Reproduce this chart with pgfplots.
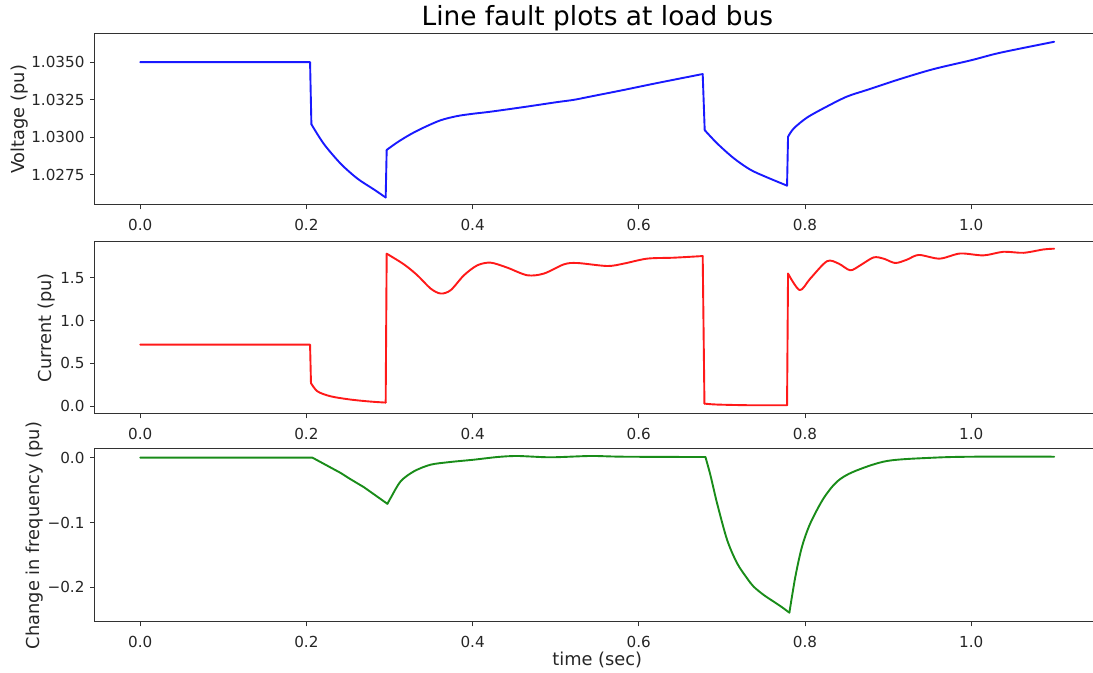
\documentclass[border=0pt]{standalone}
\usepackage{fontspec}
\setmainfont{DejaVu Sans}
\usepackage{pgfplots}
\pgfplotsset{compat=1.18}
\definecolor{vb}{RGB}{25,25,255}
\definecolor{vr}{RGB}{255,25,25}
\definecolor{vg}{RGB}{25,140,25}
\definecolor{ax}{RGB}{50,50,50}
\definecolor{tx}{RGB}{38,38,38}
\pgfplotsset{
  panel/.style={
    scale only axis, width=502.75pt,
    xmin=-0.055, xmax=1.155,
    xtick={0,0.2,0.4,0.6,0.8,1.0},
    xticklabels={0.0,0.2,0.4,0.6,0.8,1.0},
    xtick pos=bottom, ytick pos=left,
    tick align=outside, major tick length=2.2pt,
    tick style={ax, line width=0.5pt},
    axis line style={ax, line width=0.5pt},
    ticklabel style={font=\fontsize{7.6}{9}\selectfont, text=tx, inner sep=0pt},
    xticklabel style={anchor=north, yshift=-4.9pt},
    yticklabel style={anchor=east, xshift=-2.6pt},
    label style={font=\fontsize{8.9}{10.5}\selectfont, text=tx},
    anchor=north west,
  },
  ln/.style={line width=0.95pt, line join=round, line cap=round},
}
\begin{document}
\begin{tikzpicture}
\useasboundingbox (0pt,0pt) rectangle (546.5pt,336.5pt);
% Voltage
\begin{axis}[panel, at={(47.25pt,319.5pt)}, height=85.5pt,
  ymin=1.02548, ymax=1.03688,
  ytick={1.0275,1.0300,1.0325,1.0350},
  yticklabels={1.0275,1.0300,1.0325,1.0350},
  ylabel={Voltage (pu)},
  ylabel style={at={(axis description cs:-0.0741,0.5)}, anchor=center},
  every axis title shift=0pt,
  title={Line fault plots at load bus},
  title style={font=\fontsize{13.2}{15}\selectfont, text=black, at={(axis description cs:0.5,1.0936)}, anchor=center, yshift=0pt},
]
\addplot[vb, ln] coordinates {(0,1.0350) (0.2044,1.0350) (0.206,1.03086)};
\addplot[vb, ln, smooth] coordinates {(0.206,1.03086) (0.221,1.02955) (0.2413,1.02823) (0.2614,1.02724) (0.2814,1.02651) (0.2954,1.02598)};
\addplot[vb, ln] coordinates {(0.2954,1.02598) (0.2966,1.02915)};
\addplot[vb, ln, smooth] coordinates {(0.2966,1.02915) (0.3095,1.02966) (0.3255,1.03020) (0.3415,1.03065) (0.3616,1.03113) (0.3816,1.03141) (0.4016,1.03157) (0.4217,1.03170) (0.4617,1.03201) (0.5019,1.03234) (0.5218,1.03249) (0.5419,1.03271) (0.5819,1.03315) (0.6221,1.03361) (0.6769,1.03421)};
\addplot[vb, ln] coordinates {(0.6769,1.03421) (0.6793,1.03047)};
\addplot[vb, ln, smooth] coordinates {(0.6793,1.03047) (0.6942,1.02959) (0.7142,1.02860) (0.7343,1.02783) (0.7544,1.02732) (0.7784,1.02677)};
\addplot[vb, ln] coordinates {(0.7784,1.02677) (0.7796,1.03003)};
\addplot[vb, ln, smooth] coordinates {(0.7796,1.03003) (0.7864,1.03058) (0.8025,1.03131) (0.8265,1.03205) (0.8506,1.03271) (0.8746,1.03315) (0.9146,1.03388) (0.9547,1.03454) (1.0,1.03513) (1.0349,1.03563) (1.0998,1.03636)};
\end{axis}
% Current
\begin{axis}[panel, at={(47.25pt,215.75pt)}, height=86.25pt,
  ymin=-0.09, ymax=1.922,
  ytick={0,0.5,1.0,1.5},
  yticklabels={0.0,0.5,1.0,1.5},
  ylabel={Current (pu)},
  ylabel style={at={(axis description cs:-0.0472,0.5)}, anchor=center},
]
\addplot[vr, ln] coordinates {(0,0.719) (0.2044,0.719) (0.2055,0.271)};
\addplot[vr, ln, smooth] coordinates {(0.2055,0.271) (0.2133,0.174) (0.2293,0.116) (0.2533,0.078) (0.2774,0.0545) (0.2954,0.043)};
\addplot[vr, ln] coordinates {(0.2954,0.043) (0.2966,1.780)};
\addplot[vr, ln, smooth] coordinates {(0.2966,1.780) (0.3174,1.655) (0.3335,1.528) (0.3495,1.373) (0.3616,1.315) (0.3736,1.354) (0.3896,1.528) (0.4057,1.644) (0.4217,1.675) (0.4417,1.617) (0.4658,1.528) (0.4858,1.548) (0.5098,1.655) (0.5259,1.671) (0.5620,1.636) (0.5819,1.664) (0.6101,1.722) (0.6421,1.733) (0.6769,1.752)};
\addplot[vr, ln] coordinates {(0.6769,1.752) (0.679,0.031)};
\addplot[vr, ln, smooth] coordinates {(0.679,0.031) (0.6942,0.020) (0.7343,0.012) (0.7784,0.012)};
\addplot[vr, ln] coordinates {(0.7784,0.012) (0.7796,1.548)};
\addplot[vr, ln, smooth] coordinates {(0.7796,1.548) (0.7936,1.355) (0.8064,1.490) (0.8265,1.692) (0.8405,1.664) (0.8545,1.586) (0.8665,1.644) (0.8825,1.736) (0.8946,1.722) (0.9086,1.671) (0.9227,1.710) (0.937,1.765) (0.962,1.722) (0.9868,1.782) (1.0148,1.760) (1.0389,1.802) (1.0629,1.790) (1.0869,1.829) (1.0998,1.838)};
\end{axis}
% Frequency
\begin{axis}[panel, at={(47.25pt,112pt)}, height=86.5pt,
  ymin=-0.2534, ymax=0.0134,
  ytick={-0.2,-0.1,0},
  yticklabels={−0.2,−0.1,0.0},
  ylabel={Change in frequency (pu)},
  ylabel style={at={(axis description cs:-0.0592,0.5)}, anchor=center},
  xlabel={time (sec)},
  xlabel style={at={(axis description cs:0.5,-0.2197)}, anchor=center},
]
\addplot[vg, ln] coordinates {(0,0) (0.2073,0) (0.2413,-0.0236) (0.2513,-0.0318) (0.2693,-0.0456) (0.2975,-0.0712)};
\addplot[vg, ln, smooth] coordinates {(0.2975,-0.0712) (0.3014,-0.0621) (0.3135,-0.0364) (0.3295,-0.021) (0.3495,-0.0108) (0.3736,-0.0066) (0.4016,-0.0031) (0.4297,0.001) (0.4538,0.0026) (0.4938,0.0006) (0.5419,0.0026) (0.5819,0.0015) (0.6802,0.001)};
\addplot[vg, ln, smooth] coordinates {(0.6802,0.001) (0.6862,-0.027) (0.6942,-0.0703) (0.7063,-0.1269) (0.7183,-0.1628) (0.7303,-0.186) (0.7382,-0.1989) (0.7503,-0.2117) (0.7623,-0.2220) (0.7724,-0.2307) (0.7812,-0.2390)};
\addplot[vg, ln, smooth] coordinates {(0.7812,-0.2390) (0.7884,-0.1835) (0.7964,-0.1372) (0.8064,-0.1012) (0.8224,-0.0626) (0.8385,-0.0370) (0.8585,-0.0216) (0.8986,-0.0051) (0.9547,0) (1.0028,0.0015) (1.0998,0.0015)};
\end{axis}
\end{tikzpicture}
\end{document}
